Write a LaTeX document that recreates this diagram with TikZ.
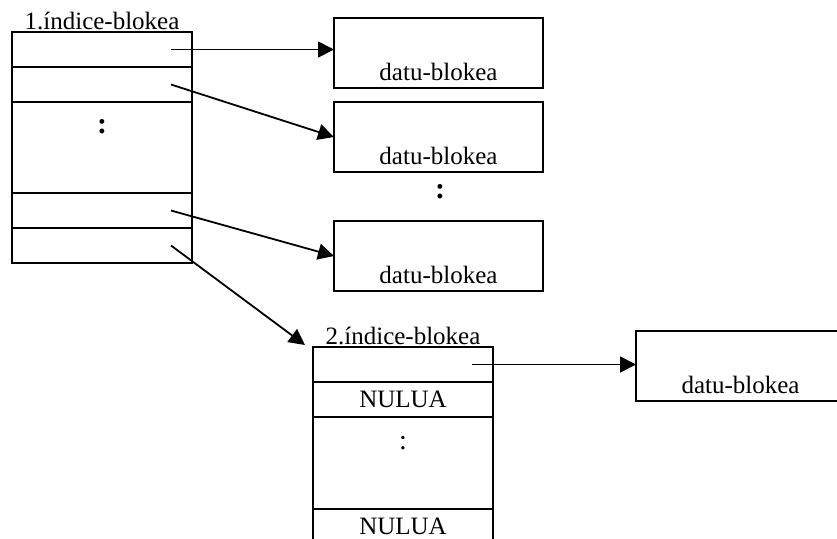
\documentclass[tikz,border=0pt]{standalone}
\usepackage{fontspec}
\setmainfont{Liberation Serif}
\usetikzlibrary{arrows.meta, positioning}

\begin{document}
\begin{tikzpicture}[
    cell/.style={draw,line width=1.2pt,minimum width=90pt,minimum height=17.5pt,
                 inner sep=0pt,outer sep=0pt,font=\fontsize{12.5}{14}\selectfont},
    big/.style={cell,minimum height=45.5pt},
    data/.style={draw,line width=1.2pt,minimum width=104.5pt,inner xsep=0pt,inner ysep=2pt,
                 text height=29pt,text depth=2pt,outer sep=0pt,font=\fontsize{12.5}{14}\selectfont},
    title/.style={anchor=south,inner sep=1pt,font=\fontsize{12.5}{14}\selectfont},
    dots/.style={font=\fontsize{15}{16}\selectfont\bfseries},
    arr/.style={-{Triangle[length=8pt,width=8pt]},line width=0.9pt}
  ]
    \useasboundingbox (0,0) rectangle (418.5pt,-269pt);
    \node[cell,anchor=north west] (i1a) at (6pt,-16pt) {};
    \node[cell,below=0pt of i1a] (i1b) {};
    \node[big,below=0pt of i1b] (i1c) {};
    \node[cell,below=0pt of i1c] (i1d) {};
    \node[cell,below=0pt of i1d] (i1e) {};
    \node[title] (t1) at (i1a.north) {1.índice-blokea};
    \node[dots] (dots1) at ([yshift=-12.5pt]i1c.north) {:};
    \node[data,anchor=north west] (d1) at (167pt,-9pt) {datu-blokea};
    \node[data,anchor=north west] (d2) at (167pt,-51pt) {datu-blokea};
    \node[dots] (dots2) at (220pt,-96pt) {:};
    \node[data,anchor=north west] (d3) at (167pt,-110.5pt) {datu-blokea};
    \node[cell,anchor=north west] (i2a) at (156.5pt,-173.5pt) {};
    \node[cell,below=0pt of i2a] (i2b) {NULUA};
    \node[big,minimum height=46pt,below=0pt of i2b] (i2c) {};
    \node[cell,below=0pt of i2c] (i2d) {NULUA};
    \node[title] (t2) at (i2a.north) {2.índice-blokea};
    \node[font=\fontsize{14}{16}\selectfont] (dots3) at ([yshift=-13pt]i2c.north) {:};
    \node[data,anchor=north west] (d4) at (318pt,-165.5pt) {datu-blokea};
    \draw[arr] ([xshift=-10.5pt]i1a.east) -- (i1a.east -| d1.west);
    \draw[arr] ([xshift=-10.5pt]i1b.east) -- ([yshift=-17.5pt]d2.north west);
    \draw[arr] ([xshift=-10.5pt]i1d.east) -- ([yshift=-17.5pt]d3.north west);
    \draw[arr] ([xshift=-10.5pt]i1e.east) -- ([xshift=-4pt,yshift=1pt]i2a.north west);
    \draw[arr] ([xshift=-10.5pt]i2a.east) -- (i2a.east -| d4.west);
  \end{tikzpicture}
\end{document}
